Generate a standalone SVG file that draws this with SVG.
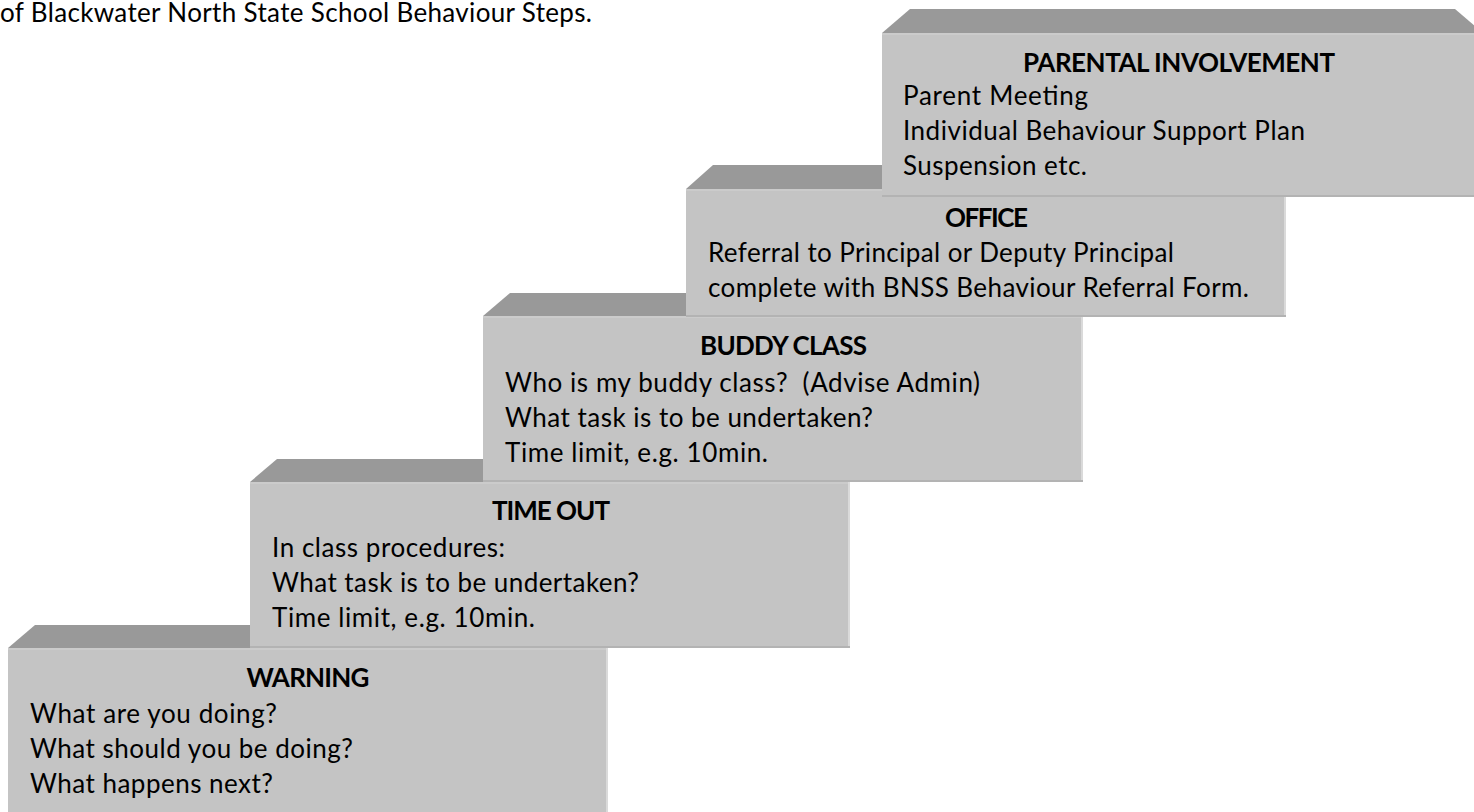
<svg xmlns="http://www.w3.org/2000/svg" width="1474" height="812" viewBox="0 0 1474 812">
<style>
.face{fill:#c4c4c4}
.bevel{fill:#999999}
.edgeB{stroke:#b3b3b3;stroke-width:2}
.edgeR{stroke:#dadada;stroke-width:2}
.edgeT{stroke:#cbcbcb;stroke-width:2}
text{font-family:Lato,"Liberation Sans",sans-serif;font-size:26px;fill:#000}
.h{font-weight:700;text-anchor:middle}
.title{font-size:26px}
</style>
<rect width="1474" height="812" fill="#ffffff"/>
<g id="title">
<text class="title" x="0" y="22" textLength="592">of Blackwater North State School Behaviour Steps.</text>
</g>
<g id="connectors"></g>
<g id="step-warning">
<polygon class="bevel" points="35,625 580,625 608,648 8,648"/>
<rect class="face" x="8" y="648" width="600" height="180"/>
<line class="edgeT" x1="8" y1="649" x2="608" y2="649"/>
<line class="edgeR" x1="607" y1="648" x2="607" y2="812"/>
<text class="h" x="308" y="687" textLength="123">WARNING</text>
<text x="30" y="723" textLength="247">What are you doing?</text>
<text x="30" y="758" textLength="323">What should you be doing?</text>
<text x="30" y="793" textLength="243">What happens next?</text>
</g>
<g id="step-timeout">
<polygon class="bevel" points="277,459 822,459 850,482 250,482"/>
<rect class="face" x="250" y="482" width="600" height="166"/>
<line class="edgeT" x1="250" y1="483" x2="850" y2="483"/>
<line class="edgeR" x1="849" y1="482" x2="849" y2="648"/>
<line class="edgeB" x1="250" y1="647" x2="850" y2="647"/>
<text class="h" x="551" y="520" textLength="118">TIME OUT</text>
<text x="272" y="557" textLength="233">In class procedures:</text>
<text x="272" y="592" textLength="367">What task is to be undertaken?</text>
<text x="272" y="627" textLength="263">Time limit, e.g. 10min.</text>
</g>
<g id="step-buddy">
<polygon class="bevel" points="510,293 1055,293 1083,316 483,316"/>
<rect class="face" x="483" y="316" width="600" height="166"/>
<line class="edgeT" x1="483" y1="317" x2="1083" y2="317"/>
<line class="edgeR" x1="1082" y1="316" x2="1082" y2="482"/>
<line class="edgeB" x1="483" y1="481" x2="1083" y2="481"/>
<text class="h" x="783.5" y="355" textLength="167">BUDDY CLASS</text>
<text x="505" y="392" textLength="475" xml:space="preserve">Who is my buddy class?  (Advise Admin)</text>
<text x="505" y="427" textLength="368">What task is to be undertaken?</text>
<text x="505" y="462" textLength="263">Time limit, e.g. 10min.</text>
</g>
<g id="step-office">
<polygon class="bevel" points="713,165 1258,165 1286,189 686,189"/>
<rect class="face" x="686" y="189" width="600" height="128"/>
<line class="edgeT" x1="686" y1="190" x2="1286" y2="190"/>
<line class="edgeR" x1="1285" y1="189" x2="1285" y2="317"/>
<line class="edgeB" x1="686" y1="316" x2="1286" y2="316"/>
<text class="h" x="986.5" y="227" textLength="83">OFFICE</text>
<text x="708" y="262" textLength="466">Referral to Principal or Deputy Principal</text>
<text x="708" y="297" textLength="541">complete with BNSS Behaviour Referral Form.</text>
</g>
<g id="step-parental">
<polygon class="bevel" points="910,9 1455,9 1483,33 882,33"/>
<rect class="face" x="882" y="33" width="600" height="164"/>
<line class="edgeT" x1="882" y1="34" x2="1482" y2="34"/>
<line class="edgeB" x1="882" y1="196" x2="1482" y2="196"/>
<text class="h" x="1179" y="72" textLength="312">PARENTAL INVOLVEMENT</text>
<text x="903" y="105" textLength="185">Parent Meeting</text>
<text x="903" y="140" textLength="402">Individual Behaviour Support Plan</text>
<text x="903" y="175" textLength="184">Suspension etc.</text>
</g>
</svg>
